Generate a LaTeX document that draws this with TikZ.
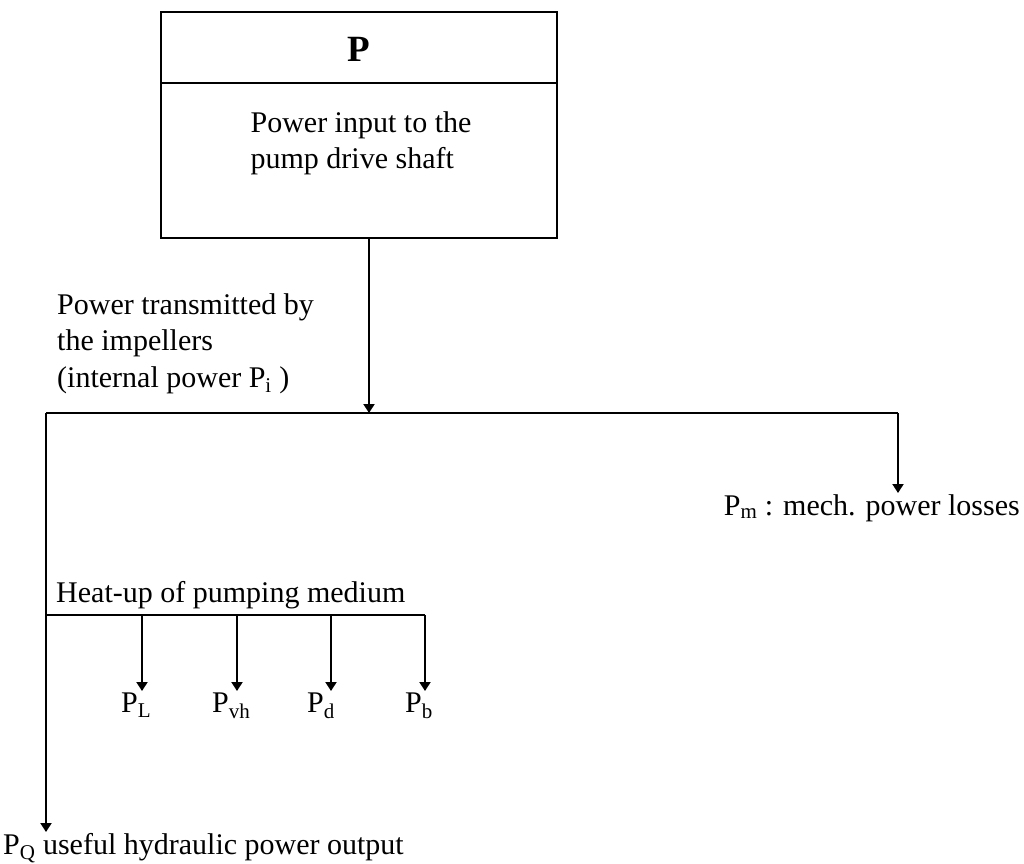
\documentclass[tikz,border=0pt]{standalone}
\usepackage{fontspec}
\setmainfont{Liberation Serif}
\usetikzlibrary{arrows.meta}
\begin{document}
\begin{tikzpicture}[x=1pt,y=-1pt,
  line/.style={line width=2pt},
  arr/.style={line width=2pt,-{Triangle[width=11pt,length=9pt]}},
  lbl/.style={inner sep=0pt,font=\fontsize{30}{36.5}\selectfont},
]
\useasboundingbox (0,0) rectangle (1024,863);
% box
\node[draw,line width=2pt,minimum width=396pt,minimum height=226pt,inner sep=0pt] (box) at (359,125) {};
\draw[line] ([yshift=-72pt]box.north west) -- ([yshift=-72pt]box.north east);
\node[inner sep=0pt,font=\fontsize{37}{40}\selectfont\bfseries] (P) at (359,49) {P};
\node[lbl,align=left,anchor=north] (inp) at (361,111) {Power input to the\\pump drive shaft};
% junctions
\coordinate (J) at (369,413);
\coordinate (L) at (46,413);
\coordinate (R) at (898,413);
\coordinate (Rtip) at (898,493);
\coordinate (Ltip) at (46,832);
\draw[arr] (box.south -| J) -- (J);
\draw[line] (L) -- (R);
\draw[arr] (R) -- (Rtip);
\draw[arr] (L) -- (Ltip);
\node[lbl,align=left,anchor=north west] (trans) at (57,293) {Power transmitted by\\the impellers\\(internal power P\textsubscript{i} )};
\node[lbl,anchor=base east] (Pm) at (1020,515) {P\textsubscript{m} : mech. power losses};
\node[lbl,anchor=base west] (PQ) at (3,854) {P\textsubscript{Q} useful hydraulic power output};
% heat-up branch
\coordinate (H0) at (46,615);
\coordinate (H1) at (142,615);
\coordinate (H2) at (237,615);
\coordinate (H3) at (331,615);
\coordinate (H4) at (425,615);
\draw[line] (H0) -- (H4);
\node[lbl,anchor=base west] (heat) at (56,602) {Heat-up of pumping medium};
\node[lbl,anchor=base west] (PL) at (121,712) {P\textsubscript{L}};
\node[lbl,anchor=base west] (Pvh) at (212,712) {P\textsubscript{vh}};
\node[lbl,anchor=base west] (Pd) at (307,712) {P\textsubscript{d}};
\node[lbl,anchor=base west] (Pb) at (405,712) {P\textsubscript{b}};
\foreach \h in {1,2,3,4}{
  \coordinate (T\h) at ([yshift=-76pt]H\h);
  \draw[arr] (H\h) -- (T\h);
}
\end{tikzpicture}
\end{document}
